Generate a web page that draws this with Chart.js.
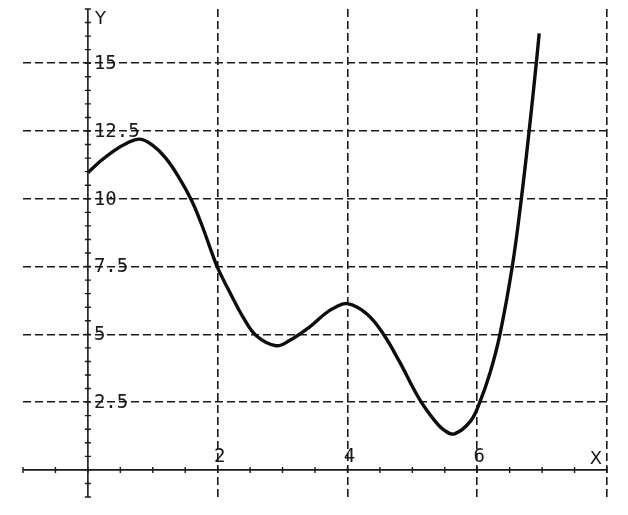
<!DOCTYPE html>
<html>
<head>
<meta charset="utf-8">
<script src="https://cdn.jsdelivr.net/npm/chart.js@4/dist/chart.umd.min.js"></script>
<style>
  html, body { margin: 0; padding: 0; background: #fff; }
  #wrap { width: 628px; height: 515px; }
</style>
</head>
<body>
<div id="wrap"><canvas id="graf"></canvas></div>
<script>
// Puntos
const xVals = [0, 0.2, 0.4, 0.6, 0.8, 1.0, 1.2, 1.4, 1.6, 1.75, 1.9, 2.0, 2.2, 2.4, 2.6, 2.9, 3.1, 3.4, 3.65, 3.8, 4.0, 4.3, 4.55, 4.8, 5.1, 5.35, 5.5, 5.65, 5.9, 6.04, 6.2, 6.35, 6.54, 6.68, 6.8, 6.91, 6.955];
const yVals = [10.96, 11.4, 11.77, 12.05, 12.2, 11.97, 11.5, 10.8, 9.93, 9.07, 8.08, 7.45, 6.49, 5.6, 4.94, 4.58, 4.76, 5.24, 5.75, 5.98, 6.13, 5.75, 5.02, 4.0, 2.65, 1.8, 1.45, 1.33, 1.81, 2.5, 3.6, 5.0, 7.5, 10.0, 12.5, 15.0, 16.1];

// Etiquetas de los ejes
const xTickLabels = [2, 4, 6];
const yTickLabels = [2.5, 5, 7.5, 10, 12.5, 15];
const xName = 'X';
const yName = 'Y';

const puntos = xVals.map((x, i) => ({ x: x, y: yVals[i] }));

const TINTA = '#1a1a1a';

// Dibuja los ejes que cruzan en el origen, con marcas cada 0.5
const ejesPlugin = {
  id: 'ejes',
  afterDatasetsDraw(chart) {
    const ctx = chart.ctx;
    const xs = chart.scales.x;
    const ys = chart.scales.y;
    const x0 = xs.getPixelForValue(0);
    const y0 = ys.getPixelForValue(0);
    ctx.save();
    ctx.strokeStyle = TINTA;
    ctx.lineWidth = 1.6;
    ctx.beginPath();
    ctx.moveTo(xs.left, y0);
    ctx.lineTo(xs.right, y0);
    ctx.moveTo(x0, ys.top);
    ctx.lineTo(x0, ys.bottom);
    ctx.stroke();

    // marcas menores
    ctx.lineWidth = 1.4;
    ctx.beginPath();
    for (let v = xs.min; v <= xs.max + 0.001; v += 0.5) {
      const p = xs.getPixelForValue(v);
      ctx.moveTo(p, y0 - 3);
      ctx.lineTo(p, y0 + 3);
    }
    for (let v = ys.min; v <= ys.max + 0.001; v += 0.5) {
      const p = ys.getPixelForValue(v);
      ctx.moveTo(x0 - 3, p);
      ctx.lineTo(x0 + 3, p);
    }
    ctx.stroke();

    // textos
    ctx.fillStyle = TINTA;
    ctx.font = '19px "DejaVu Sans Mono"';
    ctx.textBaseline = 'middle';
    ctx.textAlign = 'left';
    yTickLabels.forEach(v => {
      ctx.fillText(String(v), x0 + 6, ys.getPixelForValue(v) + 1);
    });
    ctx.textAlign = 'center';
    xTickLabels.forEach(v => {
      ctx.fillText(String(v), xs.getPixelForValue(v) + 2, y0 - 13);
    });
    ctx.font = '18px "DejaVu Sans"';
    ctx.textAlign = 'left';
    ctx.fillText(yName, x0 + 7, ys.top + 10);
    ctx.textAlign = 'center';
    ctx.fillText(xName, xs.right - 11, y0 - 11);
    ctx.restore();
  }
};

// Oculta la rejilla en -1, 0 y en el borde superior
function colorRejilla(ctx) {
  const v = ctx.tick ? ctx.tick.value : null;
  if (v === null || v <= 0 || v === 17) return 'rgba(0,0,0,0)';
  return TINTA;
}

const grafico = new Chart(document.getElementById('graf').getContext('2d'), {
  type: 'scatter',
  data: {
    datasets: [{
      data: puntos,
      showLine: true,
      borderColor: '#0d0d0d',
      borderWidth: 3.4,
      pointRadius: 0,
      tension: 0.4,
      fill: false
    }]
  },
  options: {
    responsive: true,
    maintainAspectRatio: false,
    animation: false,
    layout: { padding: { left: 23, right: 21, top: 9, bottom: 18 } },
    plugins: { legend: { display: false }, tooltip: { enabled: false } },
    scales: {
      x: {
        type: 'linear',
        min: -1,
        max: 8,
        ticks: { display: false, stepSize: 2 },
        grid: { color: colorRejilla, lineWidth: 1.6, drawTicks: false },
        border: { display: false, dash: [8, 4] }
      },
      y: {
        type: 'linear',
        min: -1,
        max: 17,
        ticks: { display: false, stepSize: 2.5 },
        grid: { color: colorRejilla, lineWidth: 1.6, drawTicks: false },
        border: { display: false, dash: [8, 4] }
      }
    }
  },
  plugins: [ejesPlugin]
});
</script>
</body>
</html>
